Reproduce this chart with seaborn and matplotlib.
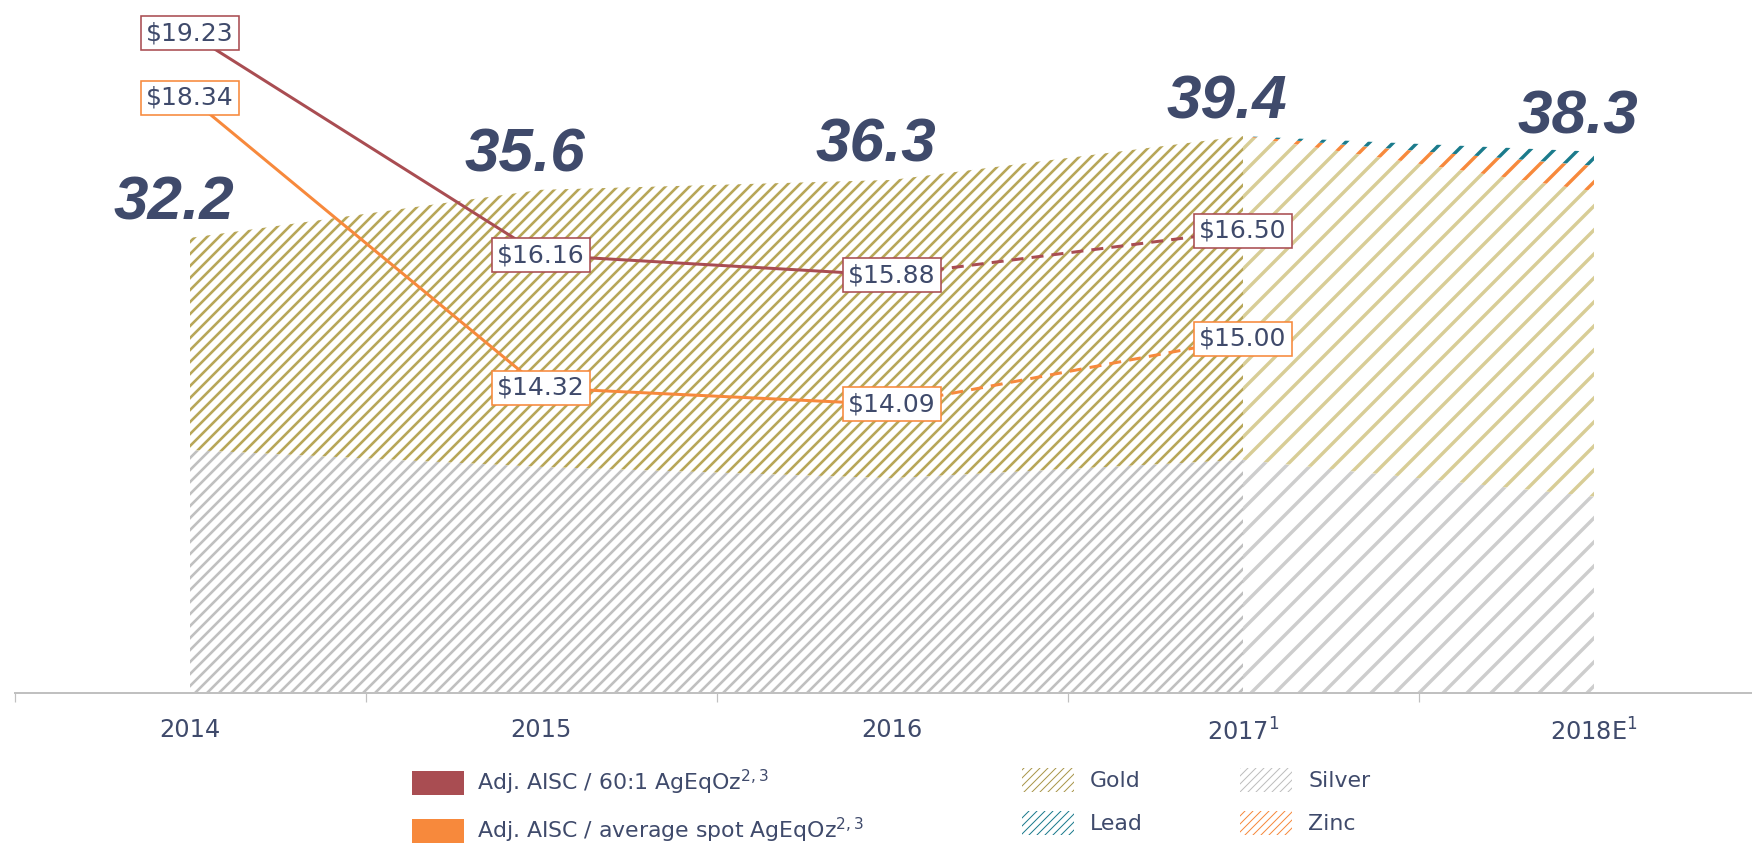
import numpy as np
import pandas as pd
import matplotlib
matplotlib.use('Agg')
import matplotlib.pyplot as plt
from matplotlib.patches import Patch
import seaborn as sns

# production (Moz AgEq) per year
years = ['2014', '2015', '2016', '2017$^1$', '2018E$^1$']
total_prod = [32.2, 35.6, 36.3, 39.4, 38.3]
silver = [17.2, 16.0, 15.2, 16.5, 13.9]
gold = [15.0, 19.6, 21.1, 22.9, 21.6]
zinc = [0.0, 0.0, 0.0, 0.0, 1.8]
lead = [0.0, 0.0, 0.0, 0.0, 1.0]

# cost per ounce 2014-2017
aisc_60 = [19.23, 16.16, 15.88, 16.50]
aisc_spot = [18.34, 14.32, 14.09, 15.00]

TXT = '#3f4a6b'
RED = '#a94d52'
ORANGE = '#f7893c'

sns.set_theme(style='white')
plt.rcParams['font.family'] = ['DejaVu Sans']

fig = plt.figure(figsize=(1752 / 72, 845 / 72), dpi=72)
ax = fig.add_axes([14.5 / 1752, 152 / 845, 1755 / 1752, 693 / 845])
ax.set_xlim(-0.5, 4.5)
ax.set_ylim(0, 49.03)

x = np.arange(len(years))
layers = [
    ('Silver', silver, '#c0c0c0', '#cdcdcd'),
    ('Gold', gold, '#b8a658', '#d8cd96'),
    ('Zinc', zinc, ORANGE, ORANGE),
    ('Lead', lead, '#1b7b8c', '#1b7b8c'),
]
base = np.zeros(len(years))
for name, vals, fine_col, coarse_col in layers:
    top = base + np.array(vals)
    # actual years: dense hatch, estimate year: wide hatch
    for sl, hatch, col, hlw in [(slice(0, 4), '//', fine_col, 2.6),
                                (slice(3, 5), '/', coarse_col, 3.4)]:
        if np.all(top[sl] - base[sl] == 0):
            continue
        with plt.rc_context({'hatch.linewidth': hlw}):
            coll = ax.fill_between(x[sl], base[sl], top[sl], facecolor='white',
                                   edgecolor=col, hatch=hatch, linewidth=0, zorder=1)
        if hasattr(coll, 'set_hatch_linewidth'):
            coll.set_hatch_linewidth(hlw)
    base = top

# totals above the area
for i, v in enumerate(total_prod):
    ax.annotate(f'{v:.1f}', (i, v), xytext=(-16, 18), textcoords='offset pixels',
                ha='center', va='baseline', fontsize=62, fontweight='bold',
                fontstyle='italic', color=TXT,
                family=['Liberation Sans Narrow', 'Liberation Sans', 'DejaVu Sans'])

# axis styling
for s in ['top', 'right', 'left']:
    ax.spines[s].set_visible(False)
ax.spines['bottom'].set_color('#c0c0c0')
ax.spines['bottom'].set_linewidth(2)
ax.set_yticks([])
ax.set_xticks(x)
ax.set_xticklabels(years, fontsize=24, color=TXT)
ax.set_xticks(np.arange(-0.5, 4.6, 1), minor=True)
ax.tick_params(axis='x', which='major', length=0, pad=25)
ax.tick_params(axis='x', which='minor', length=9, width=1.2, color='#c0c0c0', direction='out', bottom=True)

# cost lines on a second axis
ax2 = ax.twinx()
ax2.set_ylim(10.093, 19.694)
ax2.axis('off')
for vals, col in [(aisc_60, RED), (aisc_spot, ORANGE)]:
    sns.lineplot(x=x[:3], y=vals[:3], ax=ax2, color=col, linewidth=3)
    sns.lineplot(x=x[2:4], y=vals[2:4], ax=ax2, color=col, linewidth=3, linestyle=(0, (4, 2.7)))
    for i, v in enumerate(vals):
        ax2.text(i, v, f'\\${v:.2f}', ha='center', va='center', fontsize=25, color=TXT, zorder=5,
                 bbox=dict(boxstyle='square,pad=0.2', fc='white', ec=col, lw=1.6))

# legends
leg_kw = dict(frameon=False, fontsize=22, labelcolor=TXT, handlelength=2.35, handleheight=1.3,
              borderpad=0, borderaxespad=0, labelspacing=0.85, loc='upper left')
h1 = [Patch(facecolor=RED, linewidth=0), Patch(facecolor=ORANGE, linewidth=0)]
l1 = ['Adj. AISC / 60:1 AgEqOz$^{2,3}$', 'Adj. AISC / average spot AgEqOz$^{2,3}$']
leg1 = fig.legend(h1, l1, bbox_to_anchor=(412 / 1752, 1 - 768 / 845), handletextpad=0.6, **leg_kw)

with plt.rc_context({'hatch.linewidth': 2.0}):
    h2 = [Patch(facecolor='white', edgecolor=c, hatch='///', linewidth=0)
          for c in ['#a8964a', '#1b7b8c', '#bdbdbd', ORANGE]]
l2 = ['Gold', 'Lead', 'Silver', 'Zinc']
leg2 = fig.legend(h2, l2, ncol=2, bbox_to_anchor=(1022 / 1752, 1 - 768 / 845),
                  handletextpad=0.75, columnspacing=4.4, **leg_kw)

fig.savefig('out.png', dpi=72)
